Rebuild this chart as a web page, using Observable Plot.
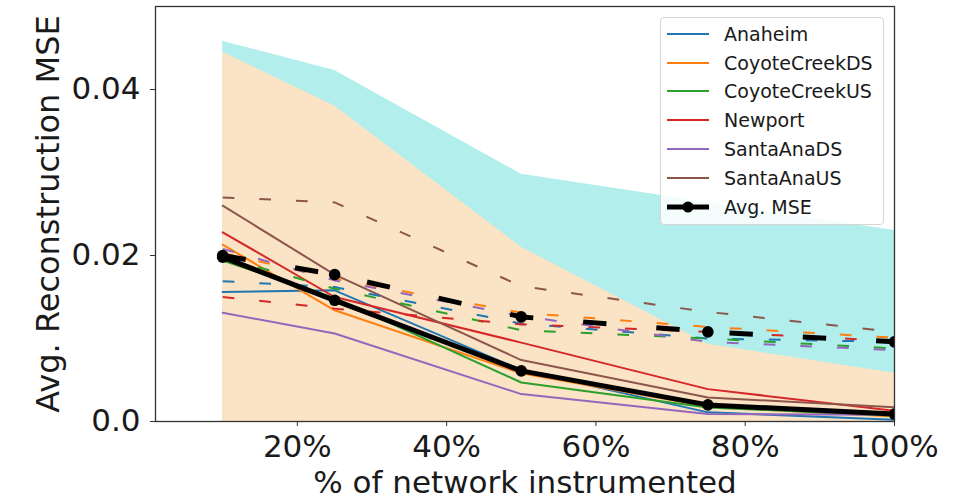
<!DOCTYPE html>
<html><head><meta charset="utf-8">
<script src="https://cdn.jsdelivr.net/npm/d3@7"></script>
<script src="https://cdn.jsdelivr.net/npm/@observablehq/plot@0.6"></script>
<style>
body{margin:0;background:#fff;font-family:"DejaVu Sans",sans-serif;}
#wrap{position:relative;width:964px;height:500px;}
#legend{position:absolute;left:660px;top:17px;width:222px;height:206px;border:1px solid #d6d6d6;border-radius:4px;background:rgba(255,255,255,0.85);font-size:19px;color:#1a1a1a;font-family:"DejaVu Sans",sans-serif;}
.item{position:absolute;left:0;height:28px;display:flex;align-items:center;white-space:nowrap}
.item svg{margin-left:5px;margin-right:14px}
</style></head>
<body><div id="wrap"></div>
<script>
// x positions (fraction of network instrumented)
const pct = [0.10, 0.25, 0.50, 0.75, 1.00];
const xTicks = [0.2, 0.4, 0.6, 0.8, 1.0];
const yTicks = [0, 0.02, 0.04];

const names = ["Anaheim", "CoyoteCreekDS", "CoyoteCreekUS", "Newport", "SantaAnaDS", "SantaAnaUS"];
const colors = ["#1f77b4", "#ff7f0e", "#2ca02c", "#d62728", "#9467bd", "#8c564b"];

// solid-line model, per dataset
const anaheimSolid    = [0.0156, 0.0158, 0.0062, 0.0011, 0.0002];
const coyoteDSSolid   = [0.0213, 0.0134, 0.0058, 0.0018, 0.0006];
const coyoteUSSolid   = [0.0194, 0.0149, 0.0047, 0.0017, 0.0007];
const newportSolid    = [0.0228, 0.0150, 0.0095, 0.0039, 0.0013];
const santaAnaDSSolid = [0.0131, 0.0106, 0.0033, 0.0009, 0.0008];
const santaAnaUSSolid = [0.0260, 0.0177, 0.0074, 0.0029, 0.0017];
// dashed-line model, per dataset
const anaheimDashed    = [0.0169, 0.0162, 0.0118, 0.0100, 0.0096];
const coyoteDSDashed   = [0.0203, 0.0172, 0.0131, 0.0114, 0.0101];
const coyoteUSDashed   = [0.0198, 0.0160, 0.0110, 0.0100, 0.0088];
const newportDashed    = [0.0150, 0.0136, 0.0117, 0.0108, 0.0097];
const santaAnaDSDashed = [0.0208, 0.0170, 0.0127, 0.0096, 0.0086];
const santaAnaUSDashed = [0.0270, 0.0264, 0.0163, 0.0132, 0.0108];
// averages
const avgSolid  = [0.0198, 0.0146, 0.0061, 0.0020, 0.0009];
const avgDashed = [0.0200, 0.0177, 0.0126, 0.0108, 0.0096];
// shaded bands (upper edges, lower edge at 0)
const bandSolidTop  = [0.0445, 0.0380, 0.0210, 0.0093, 0.0058];
const bandDashedTop = [0.0458, 0.0423, 0.0298, 0.0264, 0.0230];

const solidSeries = [anaheimSolid, coyoteDSSolid, coyoteUSSolid, newportSolid, santaAnaDSSolid, santaAnaUSSolid];
const dashedSeries = [anaheimDashed, coyoteDSDashed, coyoteUSDashed, newportDashed, santaAnaDSDashed, santaAnaUSDashed];

const tidy = (series) => series.flatMap((vals, i) => vals.map((v, j) => ({name: names[i], x: pct[j], y: v})));
const solidRows = tidy(solidSeries);
const dashedRows = tidy(dashedSeries);
const avgSolidRows = avgSolid.map((v, j) => ({x: pct[j], y: v}));
const avgDashedRows = avgDashed.map((v, j) => ({x: pct[j], y: v}));
const bandRows = pct.map((x, j) => ({x, solidTop: bandSolidTop[j], dashedTop: bandDashedTop[j]}));

const chart = Plot.plot({
  width: 964,
  height: 500,
  marginLeft: 155,
  marginRight: 70,
  marginTop: 6,
  marginBottom: 79,
  style: {fontFamily: "DejaVu Sans", fontSize: "32px", color: "#1a1a1a", background: "#fff"},
  x: {domain: [0.01, 1.0]},
  y: {domain: [0, 0.05]},
  color: {domain: names, range: colors},
  marks: [
    Plot.areaY(bandRows, {x: "x", y1: 0, y2: "dashedTop", fill: "#b2eeeb", clip: true}),
    Plot.areaY(bandRows, {x: "x", y1: 0, y2: "solidTop", fill: "#fbe3c5", clip: true}),
    Plot.line(solidRows, {x: "x", y: "y", z: "name", stroke: "name", strokeWidth: 2, clip: true}),
    Plot.line(dashedRows, {x: "x", y: "y", z: "name", stroke: "name", strokeWidth: 2, strokeDasharray: "11.7,25", strokeLinecap: "butt", clip: true}),
    Plot.line(avgSolidRows, {x: "x", y: "y", stroke: "black", strokeWidth: 5, clip: true}),
    Plot.line(avgDashedRows, {x: "x", y: "y", stroke: "black", strokeWidth: 5, strokeDasharray: "23.4,50", strokeLinecap: "butt", clip: true}),
    Plot.dot(avgSolidRows, {x: "x", y: "y", r: 5.8, fill: "black", clip: true}),
    Plot.dot(avgDashedRows, {x: "x", y: "y", r: 5.8, fill: "black", clip: true}),
    Plot.frame({stroke: "#333", strokeWidth: 1.3}),
    Plot.axisX({ticks: xTicks, tickFormat: d => Math.round(d * 100) + "%", fontSize: 31, tickSize: 5, tickPadding: 8, label: null, stroke: "#333"}),
    Plot.axisY({ticks: yTicks, tickFormat: d => d === 0 ? "0.0" : d.toFixed(2), fontSize: 31, tickSize: 5, tickPadding: 10, label: null, stroke: "#333"}),
    Plot.text(["% of network instrumented"], {frameAnchor: "bottom", dy: 61.6, fontSize: 31, textAnchor: "middle", lineAnchor: "middle", fill: "#1a1a1a"}),
    Plot.text(["Avg. Reconstruction MSE"], {frameAnchor: "left", dx: -107, rotate: -90, fontSize: 32, textAnchor: "middle", lineAnchor: "middle", fill: "#1a1a1a"})
  ]
});

const wrap = document.getElementById("wrap");
wrap.appendChild(chart);

// legend
const legend = document.createElement("div");
legend.id = "legend";
const entries = names.map((n, i) => ({label: n, color: colors[i], avg: false})).concat([{label: "Avg. MSE", color: "black", avg: true}]);
const rowY = [16, 45, 73, 102, 131, 160, 189];
entries.forEach((e, i) => {
  const item = document.createElement("div");
  item.className = "item";
  item.style.top = (rowY[i] - 14) + "px";
  const sw = e.avg
    ? `<svg width="44" height="14"><line x1="1" y1="7" x2="43" y2="7" stroke="black" stroke-width="5"/><circle cx="22" cy="7" r="5.5" fill="black"/></svg>`
    : `<svg width="44" height="14"><line x1="1" y1="7" x2="43" y2="7" stroke="${e.color}" stroke-width="2"/></svg>`;
  item.innerHTML = sw + `<span>${e.label}</span>`;
  legend.appendChild(item);
});
wrap.appendChild(legend);
</script>
</body></html>
